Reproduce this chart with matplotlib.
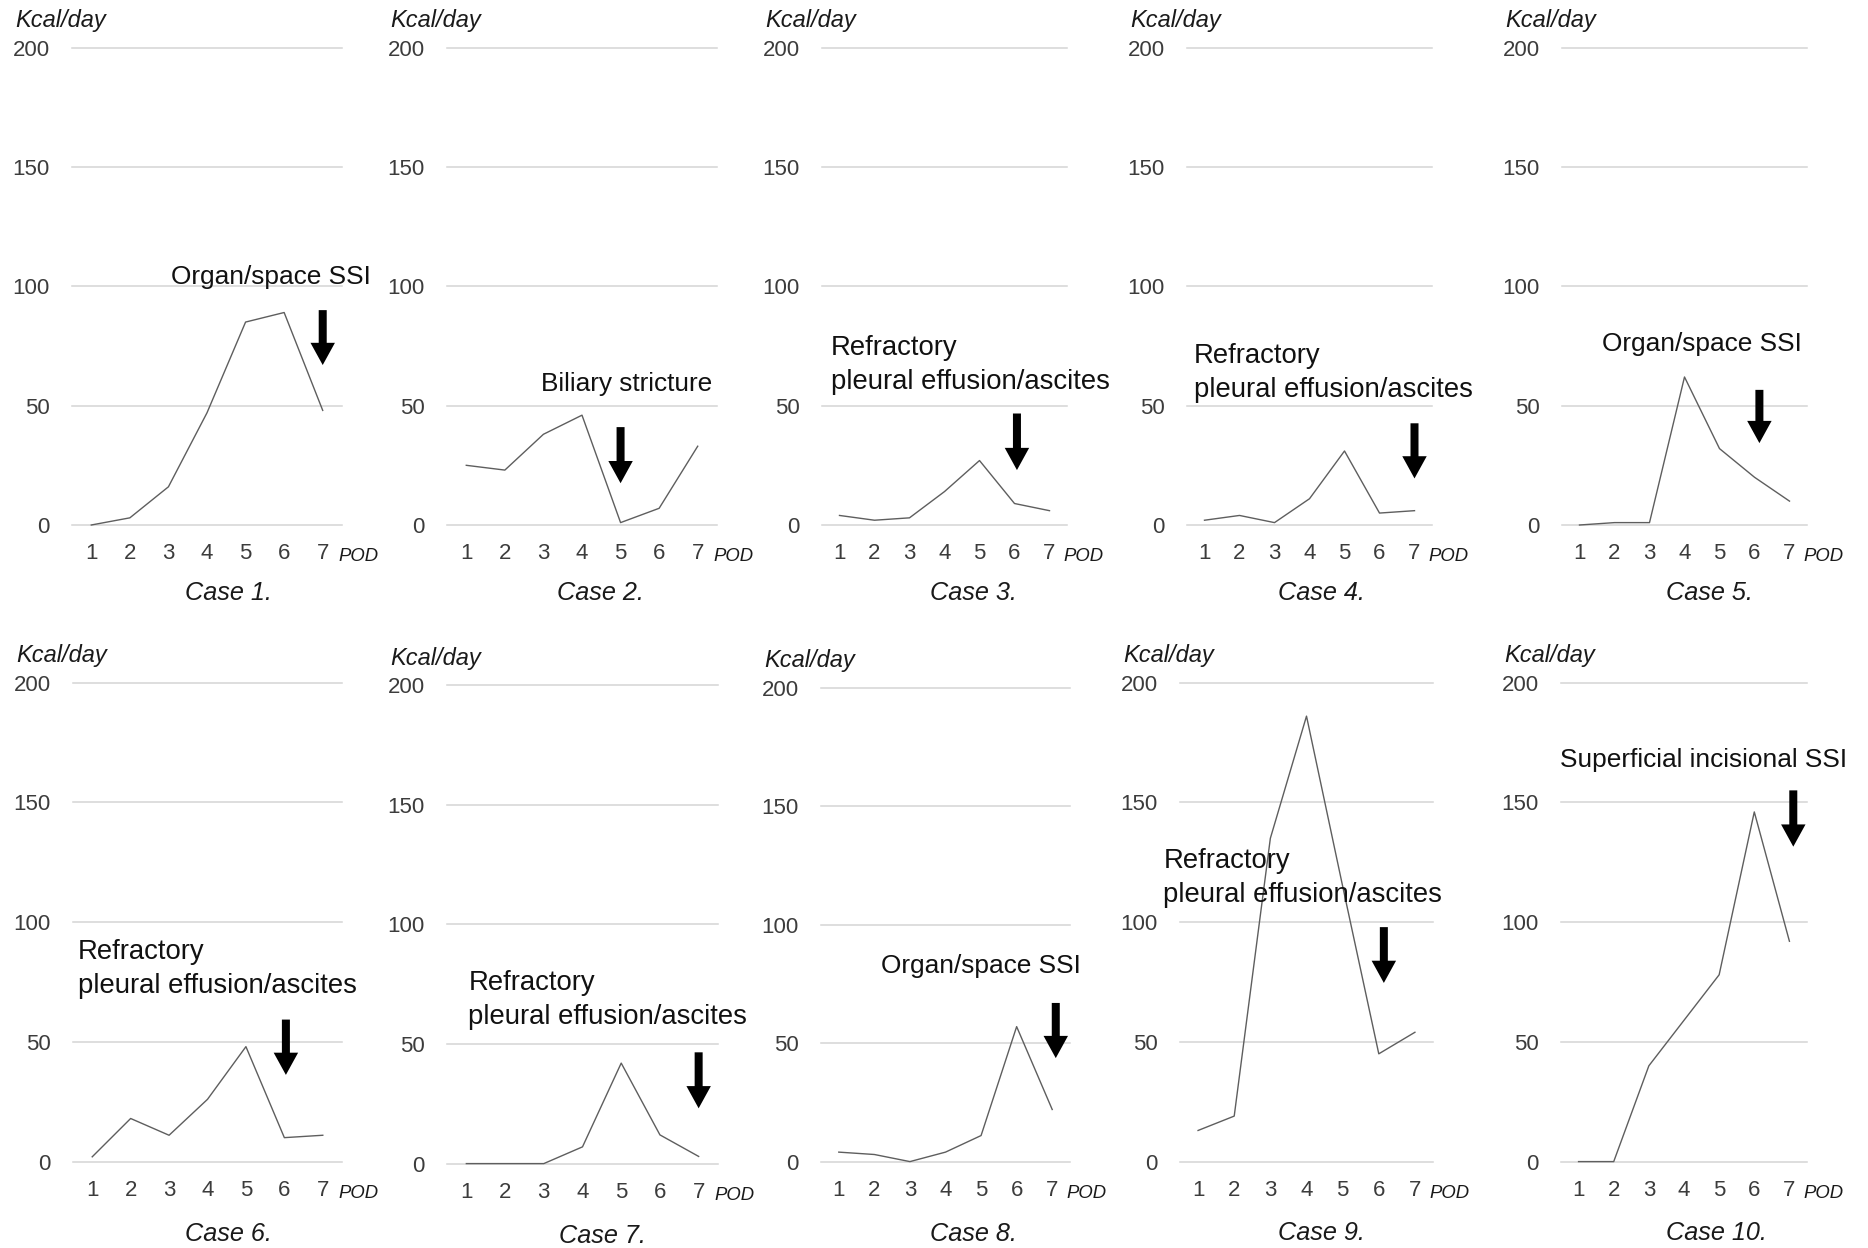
import matplotlib
matplotlib.use("Agg")
import matplotlib.pyplot as plt

plt.rcParams['font.family'] = ['Liberation Sans', 'DejaVu Sans']

# ---------------- data ----------------
pod = [1, 2, 3, 4, 5, 6, 7]
yticks = [0, 50, 100, 150, 200]

case1 = [0, 3, 16, 47, 85, 89, 48]
case2 = [25, 23, 38, 46, 1, 7, 33]
case3 = [4, 2, 3, 14, 27, 9, 6]
case4 = [2, 4, 1, 11, 31, 5, 6]
case5 = [0, 1, 1, 62, 32, 20, 10]
case6 = [2, 18, 11, 26, 48, 10, 11]
case7 = [0, 0, 0, 7, 42, 12, 3]
case8 = [4, 3, 0, 4, 11, 57, 22]
case9 = [13, 19, 135, 186, 115, 45, 54]
case10 = [0, 0, 40, 59, 78, 146, 92]
series = [case1, case2, case3, case4, case5, case6, case7, case8, case9, case10]

case_titles = ["Case 1.", "Case 2.", "Case 3.", "Case 4.", "Case 5.",
               "Case 6.", "Case 7.", "Case 8.", "Case 9.", "Case 10."]

REF = "Refractory\npleural effusion/ascites"
events = ["Organ/space SSI", "Biliary stricture", REF, REF, "Organ/space SSI",
          REF, REF, "Organ/space SSI", REF, "Superficial incisional SSI"]
# event label anchor (left x in POD units, centre y in kcal/day)
event_x = [3.07, 2.94, 0.76, 0.70, 1.65, 0.63, 1.05, 2.18, 0.04, 0.47]
event_y = [104, 59, 67, 63.6, 76, 80.3, 68.5, 82.5, 118.4, 167.5]
# arrow: x position (POD), tail and tip (kcal/day)
arrow_x = [7.0, 5.0, 6.07, 7.0, 6.14, 6.04, 7.0, 7.1, 6.14, 7.11]
arrow_top = [90, 41, 46.7, 42.6, 56.6, 59.3, 46.5, 67, 97.9, 155]
arrow_tip = [67, 17.5, 23, 19.5, 34.3, 36.2, 23.1, 43.7, 74.6, 131.5]

# ---------------- layout (pixels in a 1868x1248 canvas) ----------------
W, H = 1868, 1248
# left, right, top(200), bottom(0)
rects = [
    (72, 342, 47.5, 525), (447, 717, 47.5, 525), (822, 1067, 47.5, 525),
    (1187, 1432, 47.5, 525), (1562, 1807, 47.5, 525),
    (73, 342, 682.6, 1161.6), (447, 718, 685, 1163.6), (821, 1070, 688, 1161.6),
    (1180, 1433, 682.6, 1161.6), (1561, 1807, 682.6, 1161.6),
]
title_pos = [(228, 593), (600, 593), (973, 593), (1321, 593), (1709, 593),
             (228, 1234), (602, 1236), (973, 1234), (1321, 1233), (1716, 1233)]

fig = plt.figure(figsize=(W / 100, H / 100), dpi=100)
fig.patch.set_facecolor('white')

tick_color = '#3c3c3c'
for i in range(10):
    l, r, t, b = rects[i]
    ax = fig.add_axes([l / W, 1 - b / H, (r - l) / W, (b - t) / H])
    ax.set_xlim(0.5, 7.5)
    ax.set_ylim(0, 200)
    for s in ax.spines.values():
        s.set_visible(False)
    ax.set_yticks(yticks)
    ax.set_xticks(pod)
    ax.set_xticklabels([str(p) for p in pod])
    ax.tick_params(axis='both', length=0, labelsize=16, labelcolor=tick_color)
    ax.tick_params(axis='x', pad=13)
    ax.tick_params(axis='y', pad=16)
    ax.grid(axis='y', color='#d4d4d4', lw=1.1)
    ax.grid(axis='x', visible=False)
    for gl in ax.get_ygridlines():
        gl.set_clip_on(False)
    ax.set_axisbelow(True)
    ax.patch.set_alpha(0)

    ax.plot(pod, series[i], color='#5e5e5e', lw=1.0, clip_on=False, zorder=3)

    two_line = '\n' in events[i]
    ax.text(event_x[i], event_y[i], events[i], ha='left', va='center',
            fontsize=19.8 if two_line else 18.9, color='#111111',
            linespacing=1.4, zorder=4)

    ax.annotate('', xy=(arrow_x[i], arrow_tip[i]), xytext=(arrow_x[i], arrow_top[i]),
                arrowprops=dict(arrowstyle='simple,head_length=1.0,head_width=1.1,tail_width=0.36',
                                mutation_scale=16, color='black', shrinkA=0, shrinkB=0,
                                lw=0),
                zorder=5)

    ax.annotate('Kcal/day', xy=(0, 1), xycoords='axes fraction',
                xytext=(-57, 27), textcoords='offset pixels',
                ha='left', va='center', fontsize=17, style='italic', color='#1a1a1a')
    ax.annotate('POD', xy=(1, 0), xycoords='axes fraction',
                xytext=(-4, -32), textcoords='offset pixels',
                ha='left', va='center', fontsize=13.3, style='italic', color='#1a1a1a')

    tx, ty = title_pos[i]
    fig.text(tx / W, 1 - ty / H, case_titles[i], ha='center', va='center',
             fontsize=18.2, style='italic', color='#1a1a1a')

fig.savefig('out.png', dpi=100, facecolor='white')
